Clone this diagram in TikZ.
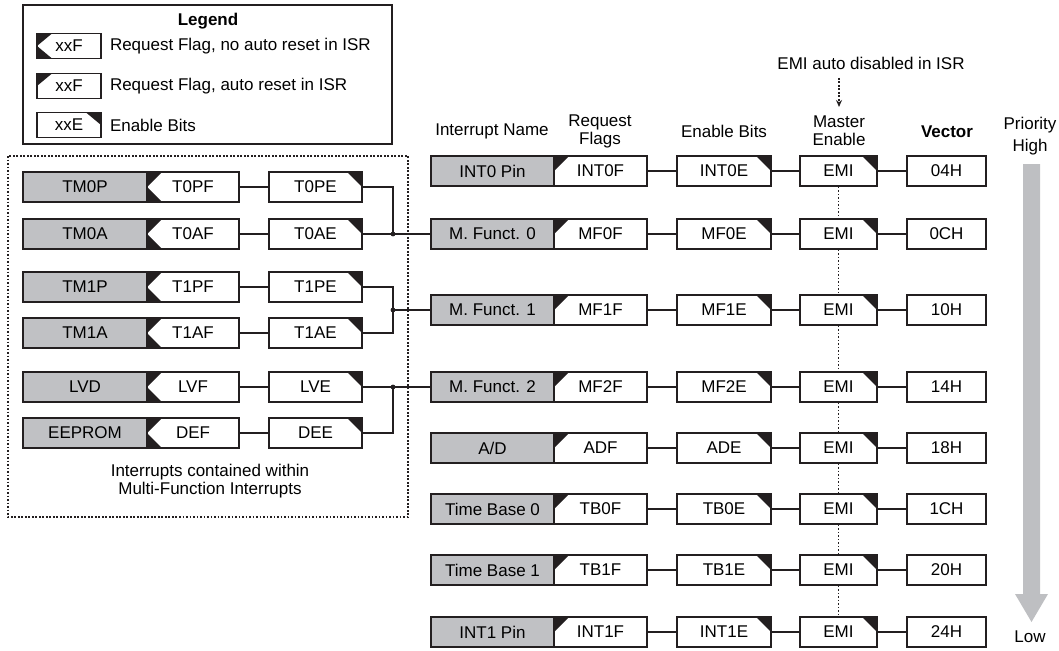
\documentclass[tikz,border=0pt]{standalone}
\usepackage{fontspec}
\setmainfont{Liberation Sans}
\usetikzlibrary{arrows.meta}
\definecolor{ink}{RGB}{35,31,32}
\definecolor{shade}{RGB}{192,193,196}
\definecolor{prio}{RGB}{190,191,194}
\newcommand\boxfont{\fontsize{17}{18}\selectfont}

\begin{document}
\begin{tikzpicture}[x=1pt, y=-1pt, >={Stealth[length=7pt,width=6pt]},
  box/.style={draw=ink, line width=1.6pt, fill=white, inner sep=0pt, minimum height=30pt, font=\boxfont},
  srcbox/.style={box, fill=shade},
  flagauto/.style={box, path picture={\fill[ink] (path picture bounding box.north west) -- ++(15pt,0pt) -- (path picture bounding box.west) -- cycle;}},
  flagkeep/.style={box, path picture={\fill[ink] (path picture bounding box.north west) -- ++(15pt,0pt) -- (path picture bounding box.west) -- cycle
      (path picture bounding box.south west) -- ++(15pt,0pt) -- (path picture bounding box.west) -- cycle;}},
  enbox/.style={box, path picture={\fill[ink] (path picture bounding box.north east) -- ++(-15pt,0pt) -- (path picture bounding box.east) -- cycle;}},
  wire/.style={draw=ink, line width=1.4pt},
  dots/.style={draw=ink, line width=1.3pt, dash pattern=on 1.6pt off 1.9pt},
  head/.style={font=\boxfont, align=center, inner sep=0pt}]
  \useasboundingbox (0,0) rectangle (1059,650);

  % legend
  \draw[ink, line width=1.6pt] (23,5) rectangle (392,144);
  \node[head, font=\boxfont\bfseries] (legend) at (208,21) {Legend};
  \node[flagkeep, minimum width=64pt, minimum height=25pt] (lgkeep) at (69,46) {xxF};
  \node[flagauto, minimum width=64pt, minimum height=25pt] (lgauto) at (69,86) {xxF};
  \node[enbox, minimum width=64pt, minimum height=25pt] (lgen) at (69,125) {xxE};
  \node[head, anchor=west] (lgkeeptxt) at ([xshift=8pt]lgkeep.east) {Request Flag, no auto reset in ISR};
  \node[head, anchor=west] (lgautotxt) at ([xshift=8pt]lgauto.east) {Request Flag, auto reset in ISR};
  \node[head, anchor=west] (lgentxt) at ([xshift=8pt]lgen.east) {Enable Bits};

  % interrupts inside the multi-function ones
  \draw[dots] (8,156) rectangle (408,517);
  \foreach \n/\nm/\fl/\en/\y in {0/TM0P/T0PF/T0PE/187, 1/TM0A/T0AF/T0AE/234, 2/TM1P/T1PF/T1PE/287,
      3/TM1A/T1AF/T1AE/333, 4/LVD/LVF/LVE/387, 5/EEPROM/DEF/DEE/433}{
    \node[srcbox, minimum width=124pt] (msrc\n) at (85,\y) {\nm};
    \node[flagkeep, minimum width=92pt] (mflag\n) at (193,\y) {\fl};
    \node[enbox, minimum width=93pt] (men\n) at (315.5,\y) {\en};
    \draw[wire] (mflag\n) -- (men\n);
  }
  \node[head] (mfnote) at (210,481) {Interrupts contained within\\Multi-Function Interrupts};

  % column heads
  \node[head] (hname) at (492,131) {Interrupt Name};
  \node[head] (hflag) at (600,131) {Request\\Flags};
  \node[head] (hen) at (724,131) {Enable Bits};
  \node[head] (hemi) at (839,131) {Master\\Enable};
  \node[head, font=\boxfont\bfseries] (hvec) at (947,132) {Vector};
  \node[head] (hprio) at (1030,136) {Priority\\[4pt]High};
  \node[head] (emnote) at (871,63) {EMI auto disabled in ISR};

  % interrupt rows
  \foreach \n/\nm/\fl/\en/\vc/\y in {0/INT0 Pin/INT0F/INT0E/04H/171, 1/M. Funct. 0/MF0F/MF0E/0CH/234,
      2/M. Funct. 1/MF1F/MF1E/10H/310, 3/M. Funct. 2/MF2F/MF2E/14H/387, 4/{A/D}/ADF/ADE/18H/448,
      5/Time Base 0/TB0F/TB0E/1CH/509, 6/Time Base 1/TB1F/TB1E/20H/570, 7/INT1 Pin/INT1F/INT1E/24H/632}{
    \node[srcbox, minimum width=123pt] (src\n) at (492.5,\y) {\nm};
    \node[flagauto, minimum width=93pt] (flag\n) at (600.5,\y) {\fl};
    \node[enbox, minimum width=94pt] (en\n) at (724,\y) {\en};
    \node[enbox, minimum width=77pt] (emi\n) at (838.5,\y) {EMI};
    \node[box, minimum width=79pt] (vec\n) at (946.5,\y) {\vc};
    \draw[wire] (flag\n) -- (en\n) (en\n) -- (emi\n) (emi\n) -- (vec\n);
  }
  \foreach \i/\j in {0/1, 1/2, 2/3, 3/4, 4/5, 5/6, 6/7}
    \draw[dots] (emi\i) -- (emi\j);
  \coordinate (emtail) at (839,78);
  \coordinate (emtip) at (839,107);
  \draw[dots, ->] (emtail) -- (emtip);

  % joins into the multi-function rows
  \coordinate (j0) at (393,234);
  \coordinate (j1) at (393,310);
  \coordinate (j2) at (393,387);
  \draw[wire] (men0.east) -| (j0) (men1) -- (src1);
  \draw[wire] (men2.east) -| (j1) (men3.east) -| (j1) (j1) -- (src2);
  \draw[wire] (men5.east) -| (j2) (men4) -- (src3);
  \foreach \j in {j0, j1, j2}
    \fill[ink] (\j) circle (2.4pt);

  % priority arrow
  \fill[prio] (1023,164) -- (1040,164) -- (1040,594) -- (1048,594) -- (1031.5,622)
    -- (1015,594) -- (1023,594) -- cycle;
  \node[head] (low) at (1030,637) {Low};
\end{tikzpicture}
\end{document}
